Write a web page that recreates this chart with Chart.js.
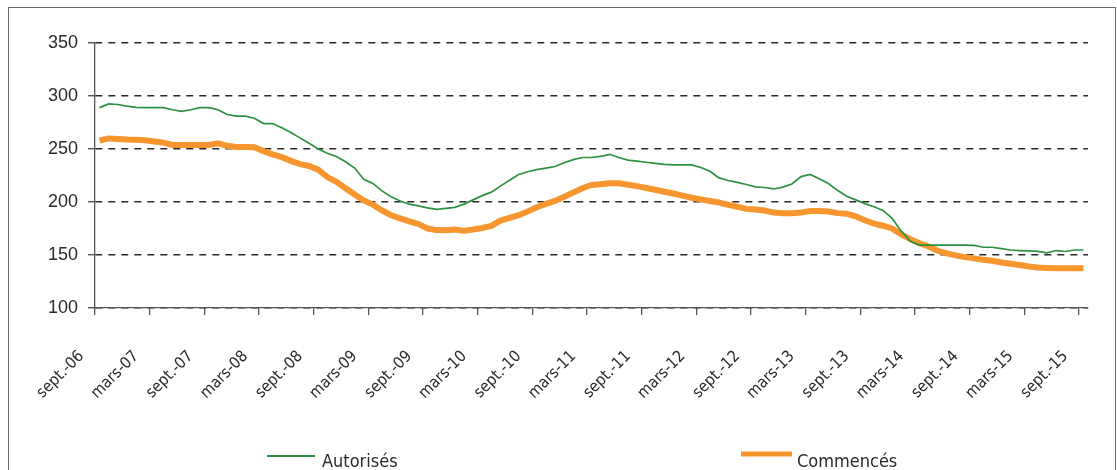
<!DOCTYPE html>
<html><head><meta charset="utf-8">
<script src="https://cdn.jsdelivr.net/npm/chart.js@4/dist/chart.umd.min.js"></script>
<style>
html,body{margin:0;padding:0;background:#fff;}
#wrap{position:relative;width:1117px;height:470px;overflow:hidden;}
#frame{position:absolute;left:8px;top:7px;width:1108px;height:520px;border:1px solid #6b6b6b;box-sizing:border-box;pointer-events:none;}
canvas{position:absolute;left:0;top:0;}
</style></head><body>
<div id="wrap"><canvas id="c" width="1117" height="470"></canvas><div id="frame"></div></div>
<script>
const monthNames = ['janv.','févr.','mars','avr.','mai','juin','juil.','août','sept.','oct.','nov.','déc.'];
const startYear = 2006, startMonth = 8, monthCount = 109;
const categories = [];
for (let k = 0; k < monthCount; k++) {
  const m = (startMonth + k) % 12, y = startYear + Math.floor((startMonth + k) / 12);
  categories.push(monthNames[m] + '-' + String(y % 100).padStart(2, '0'));
}
const seriesNames = ['Autorisés', 'Commencés'];
const autorises = [
  289, 292.5, 292, 290.5, 289.3, 289, 289, 289, 287, 285.5,
  287, 289, 289, 287, 282.5, 281, 281, 279, 274, 274,
  270, 265.5, 260.5, 255.5, 250, 246, 243, 238, 232, 221.5,
  217.5, 210.5, 205, 201, 198, 196.3, 194.5, 193, 194, 195,
  198, 202, 206, 209.3, 215, 220.5, 226, 228.5, 230.5, 232,
  233.5, 237, 240, 242, 242, 243, 245, 242, 239.5, 238.5,
  237.5, 236.5, 235.5, 235, 235, 235, 232.5, 229, 222.7, 220.3,
  218.5, 216.5, 214.3, 213.7, 212.3, 214, 217, 224, 226, 222,
  217.5, 211, 205.5, 202, 198.5, 195.5, 192, 184.5, 172.5, 163,
  159.4, 159.4, 159.4, 159.4, 159.4, 159.4, 159, 157.3, 157.3, 156,
  154.7, 154.2, 153.8, 153.5, 152, 154.2, 153.3, 154.7, 154.7
];
const commences = [
  258, 260, 259.5, 259, 258.8, 258.3, 257, 256, 253.8, 253.8,
  253.8, 253.8, 253.8, 255.3, 253, 252, 251.8, 251.6, 248, 245,
  242.3, 238.8, 235.7, 234, 230.5, 223.5, 219, 213, 207, 201.5,
  197.5, 192, 187.5, 184.5, 181.7, 179.3, 175, 173.5, 173.4, 174,
  172.8, 174, 175.5, 177.5, 182.5, 185, 187.5, 191, 195, 198.2,
  201, 205, 209, 213, 216, 216.8, 217.6, 217.6, 216.3, 215,
  213.2, 211.5, 209.7, 208, 206, 204, 202.5, 201, 199.5, 197.3,
  195.5, 193.5, 193, 192, 190, 189.3, 189.3, 190, 191.5, 191.5,
  191, 189.5, 189, 186.5, 182.8, 179.5, 177.6, 175, 169.5, 165,
  161, 158, 154, 151.5, 149.6, 148, 146.8, 145.6, 144.5, 143,
  141.7, 140.5, 139.2, 138.3, 137.8, 137.4, 137.4, 137.4, 137.4
];
const yTickValues = [100, 150, 200, 250, 300, 350];
const labelEvery = 6;

const narrow = "'DejaVu Sans Condensed', 'Liberation Sans', sans-serif";
const textColor = '#2b2b2b';

const legendPlugin = {
  id: 'manualLegend',
  afterDraw(chart) {
    const c = chart.ctx;
    const slots = [{x: 267, w: 48, tx: 322}, {x: 741, w: 51, tx: 797}];
    chart.data.datasets.forEach((ds, i) => {
      const s = slots[i];
      c.save();
      c.strokeStyle = ds.borderColor;
      c.lineWidth = i === 0 ? 2 : 5;
      c.lineCap = 'butt';
      c.beginPath();
      c.moveTo(s.x, i === 0 ? 456 : 454);
      c.lineTo(s.x + s.w, i === 0 ? 456 : 454);
      c.stroke();
      c.fillStyle = textColor;
      c.font = "18px " + narrow;
      c.textBaseline = 'alphabetic';
      c.textAlign = 'left';
      c.fillText(ds.label, s.tx, 467);
      c.restore();
    });
  }
};

new Chart(document.getElementById('c'), {
  type: 'line',
  data: {
    labels: categories,
    datasets: [
      {label: seriesNames[0], data: autorises, borderColor: '#2e9142', borderWidth: 1.7, pointRadius: 0, tension: 0, fill: false},
      {label: seriesNames[1], data: commences, borderColor: '#f7952e', borderWidth: 6, pointRadius: 0, tension: 0, fill: false, borderCapStyle: 'butt'}
    ]
  },
  options: {
    responsive: false,
    animation: false,
    layout: {padding: {left: 0, right: 29, top: 43, bottom: 0}},
    plugins: {legend: {display: false}, tooltip: {enabled: false}},
    scales: {
      x: {
        offset: true,
        grid: {
          offset: true, drawOnChartArea: false, tickLength: 7, lineWidth: 1.3,
          color: ctx => (ctx.index !== undefined && ctx.index % labelEvery === 0) ? '#555' : 'rgba(0,0,0,0)'
        },
        border: {color: '#555', width: 1.3},
        ticks: {
          autoSkip: false, minRotation: 45, maxRotation: 45, padding: 32, labelOffset: -18,
          color: textColor, font: {family: narrow, size: 16},
          callback: (v, i) => (i % labelEvery === 0 ? categories[i] : '')
        },
        afterFit: s => { s.height = 162; s.paddingRight = 0; }
      },
      y: {
        min: yTickValues[0], max: yTickValues[yTickValues.length - 1],
        afterBuildTicks: s => { s.ticks = yTickValues.map(v => ({value: v})); },
        grid: {color: '#2a2a2a', lineWidth: 1.4, tickLength: 7, tickColor: '#555'},
        border: {dash: [7, 6], color: '#555', width: 1.3},
        ticks: {padding: 10, color: textColor, font: {family: "'Liberation Sans', Arial, sans-serif", size: 18}},
        afterFit: s => { s.width = 95; }
      }
    }
  },
  plugins: [legendPlugin]
});
</script>
</body></html>
